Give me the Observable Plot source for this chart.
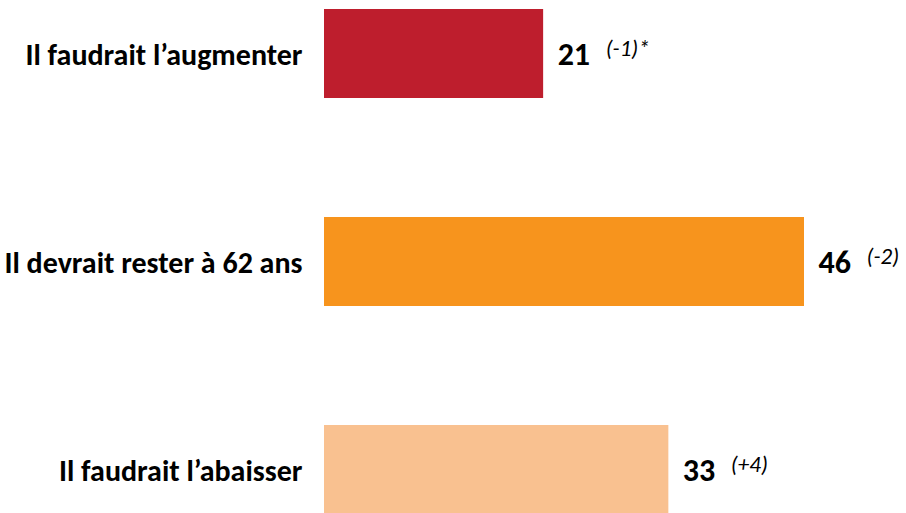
<!DOCTYPE html>
<html>
<head>
<meta charset="utf-8">
<script src="https://cdn.jsdelivr.net/npm/d3@7"></script>
<script src="https://cdn.jsdelivr.net/npm/@observablehq/plot@0.6"></script>
<style>
  html, body { margin: 0; padding: 0; background: #fff; }
  svg { display: block; }
</style>
</head>
<body>
<div id="chart"></div>
<script>
const categories = ["Il faudrait l’augmenter", "Il devrait rester à 62 ans", "Il faudrait l’abaisser"];
const values = [21, 46, 33];
const changes = ["(-1)*", "(-2)", "(+4)"];
const colors = ["#BE1E2D", "#F7941D", "#F9C190"];

const data = categories.map((c, i) => ({category: c, value: values[i], change: changes[i], color: colors[i]}));
const font = "Carlito, 'Liberation Sans Narrow', 'Open Sans', sans-serif";

const chart = Plot.plot({
  width: 906,
  height: 513,
  margin: 0,
  style: {fontFamily: font, background: "#fff"},
  x: {domain: [0, 46], range: [324, 804], axis: null},
  y: {domain: categories, range: [8, 515], paddingInner: 0.574, paddingOuter: 0, axis: null},
  marks: [
    Plot.barX(data, {x: "value", y: "category", fill: "color"}),
    Plot.text(data, {x: 0, y: "category", text: "category", textAnchor: "end", dx: -22, dy: 1, fontSize: 30, fontWeight: "bold", fill: "#000"}),
    Plot.text(data, {x: "value", y: "category", text: d => String(d.value), textAnchor: "start", dx: 14, dy: 1, fontSize: 32, fontWeight: "bold", fill: "#000"}),
    Plot.text(data, {x: "value", y: "category", text: "change", textAnchor: "start", dx: 62, dy: -5, fontSize: 23, fontStyle: "italic", fill: "#000"})
  ]
});
document.getElementById("chart").append(chart);
</script>
</body>
</html>
